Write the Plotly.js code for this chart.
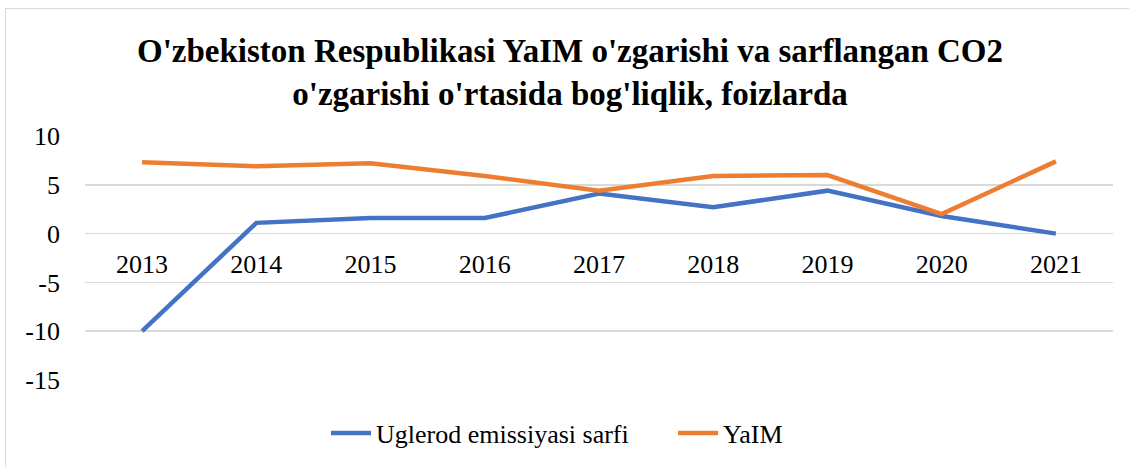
<!DOCTYPE html>
<html>
<head>
<meta charset="utf-8">
<script src="https://cdn.plot.ly/plotly-3.0.1.min.js"></script>
<style>
  html, body { margin: 0; padding: 0; background: #fff; }
  #wrap { position: relative; width: 1129px; height: 467px; overflow: hidden; }
  #border { position: absolute; left: 5px; top: 8px; width: 1135px; height: 470px; border: 1.5px solid #d9d9d9; box-sizing: border-box; pointer-events: none; }
  #chart { position: absolute; left: 0; top: 0; width: 1129px; height: 467px; }
</style>
</head>
<body>
<div id="wrap">
  <div id="chart"></div>
  <div id="border"></div>
</div>
<script>
const years = ['2013', '2014', '2015', '2016', '2017', '2018', '2019', '2020', '2021'];
const carbon = [-10.0, 1.1, 1.6, 1.6, 4.1, 2.7, 4.4, 1.8, 0.0];
const gdp = [7.3, 6.9, 7.2, 5.9, 4.4, 5.9, 6.0, 2.0, 7.4];
const yTicks = [-15, -10, -5, 0, 5, 10];
const seriesNames = ['Uglerod emissiyasi sarfi', 'YaIM'];
const titleText = "O'zbekiston Respublikasi YaIM o'zgarishi va sarflangan CO2<br>o'zgarishi o'rtasida bog'liqlik, foizlarda";

const fontFam = '"Liberation Serif", "DejaVu Serif", serif';

const traces = [
  { x: years, y: carbon, name: seriesNames[0], type: 'scatter', mode: 'lines',
    line: { color: '#4472C4', width: 4.5 } },
  { x: years, y: gdp, name: seriesNames[1], type: 'scatter', mode: 'lines',
    line: { color: '#ED7D31', width: 4.5 } }
];

const layout = {
  width: 1129, height: 467,
  margin: { l: 85, r: 16, t: 136, b: 87, autoexpand: false },
  paper_bgcolor: '#fff', plot_bgcolor: '#fff',
  font: { family: fontFam, color: '#000', size: 26 },
  title: {
    text: titleText,
    font: { family: fontFam, size: 33, color: '#000', weight: 'bold' },
    x: 570 / 1129, xanchor: 'center', xref: 'container',
    y: 1 - 62 / 467, yanchor: 'middle', yref: 'container'
  },
  xaxis: {
    type: 'category',
    range: [-0.5, 8.5],
    anchor: 'free',
    position: (380 - 234) / 244,
    showgrid: false, zeroline: false, showline: false,
    ticks: '', ticklabelstandoff: 12,
    tickfont: { family: fontFam, size: 26, color: '#000' },
    fixedrange: true
  },
  yaxis: {
    range: [-15, 10],
    tickvals: yTicks,
    ticktext: yTicks.map(String),
    showgrid: true, gridcolor: '#d9d9d9', gridwidth: 1.5,
    zeroline: false, showline: false,
    ticks: '', ticklabelstandoff: 24,
    tickfont: { family: fontFam, size: 26, color: '#000' },
    fixedrange: true
  },
  legend: {
    orientation: 'h',
    x: 0.572, xanchor: 'center',
    y: -(433 - 380) / 244, yanchor: 'middle',
    font: { family: fontFam, size: 26, color: '#000' },
    itemwidth: 40,
    entrywidth: 292,
    bgcolor: 'rgba(0,0,0,0)'
  },
  showlegend: true
};

Plotly.newPlot('chart', traces, layout, { displayModeBar: false, staticPlot: true });
</script>
</body>
</html>
